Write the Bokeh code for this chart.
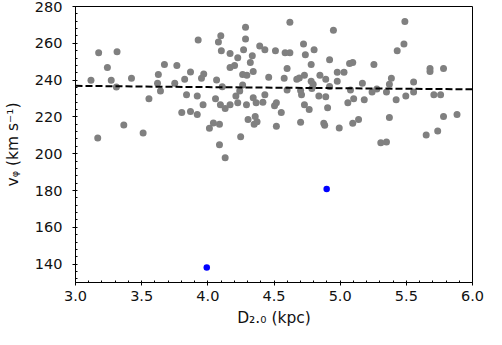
from bokeh.plotting import figure
from bokeh.embed import file_html
from bokeh.resources import INLINE
from bokeh.models import FixedTicker, Range1d

# gray sample stars: distance D_2.0 (kpc), v_phi (km/s)
gray_x = [3.117, 3.175, 3.314, 3.241, 3.270, 3.309, 3.423, 3.168, 3.365, 3.511,
          3.555, 3.626, 3.620, 3.642, 3.672, 3.766, 3.750, 3.825, 3.869, 3.927,
          3.969, 3.952, 3.839, 3.920, 3.964, 3.803, 3.869, 3.920, 4.066, 4.109,
          4.098, 4.080, 4.102, 4.168, 4.226, 4.285, 4.285, 4.270, 4.336, 4.321,
          4.392, 4.431, 4.511, 4.202, 4.168, 4.343, 4.263, 4.295, 4.460, 4.263,
          4.058, 4.241, 4.212, 4.095, 4.131, 4.168, 4.226, 4.292, 4.343, 4.365,
          4.431, 4.416, 4.012, 4.042, 4.088, 4.304, 4.358, 4.372, 4.350, 4.248,
          4.088, 4.131,
          4.620, 4.949, 4.723, 4.584, 4.620, 4.737, 4.803, 4.920, 4.781, 4.599,
          5.071, 5.095, 5.255, 4.577, 4.672, 4.691, 4.730, 4.847, 4.891, 4.978,
          5.029, 4.978, 4.781, 4.796, 4.786, 4.920, 4.599, 4.701, 4.708, 5.168,
          5.078, 5.241, 4.839, 4.891, 5.102, 5.182, 5.058, 4.518, 4.504, 4.730,
          4.766, 4.905, 4.555, 4.518, 4.701, 4.876, 4.883, 4.993, 5.095, 5.139,
          5.489, 5.482, 5.431, 5.679, 5.679, 5.781, 5.387, 5.372, 5.555, 5.277,
          5.350, 5.555, 5.496, 5.423, 5.708, 5.759, 5.372, 5.781, 5.883, 5.650,
          5.737, 5.307, 5.350]
gray_y = [239.9, 254.9, 255.4, 246.9, 239.9, 236.2, 241.0, 208.5, 215.6, 211.2,
          229.8, 243.1, 238.3, 234.1, 248.5, 248.0, 238.3, 240.5, 244.4, 261.8,
          243.3, 241.0, 232.0, 231.4, 226.6, 222.4, 222.9, 221.3, 240.1, 236.4,
          264.1, 260.7, 255.9, 254.5, 252.2, 268.7, 262.3, 256.5, 253.3, 249.5,
          258.6, 256.5, 255.9, 248.0, 246.9, 244.7, 243.1, 242.6, 241.5, 237.3,
          229.8, 234.1, 231.4, 226.6, 224.5, 226.6, 227.7, 226.6, 230.4, 227.7,
          232.0, 228.0, 213.8, 216.7, 216.0, 218.6, 220.2, 217.4, 216.0, 209.2,
          204.8, 197.8,
          271.4, 267.1, 259.6, 254.9, 254.9, 253.8, 256.5, 251.1, 248.5, 246.3,
          249.0, 249.5, 248.5, 241.0, 240.5, 241.2, 242.6, 242.6, 240.5, 244.2,
          244.2, 239.4, 239.4, 237.8, 235.5, 236.5, 234.6, 234.3, 232.0, 238.3,
          234.6, 233.5, 231.4, 230.9, 229.8, 229.3, 227.7, 227.7, 226.1, 226.6,
          224.0, 225.0, 222.4, 214.9, 217.1, 216.5, 215.5, 213.9, 216.5, 218.6,
          271.9, 259.6, 255.9, 246.3, 244.7, 246.3, 241.0, 237.8, 238.9, 235.2,
          233.5, 233.5, 231.4, 229.3, 232.0, 232.0, 219.7, 220.2, 221.3, 210.1,
          212.3, 205.9, 206.4]

# highlighted stars
blue_x = [3.992, 4.898]
blue_y = [138.2, 180.8]

# trend line
fit_x = [3.0, 3.5, 4.0, 4.5, 5.0, 5.5, 6.0]
fit_y = [236.9, 236.5, 236.2, 235.9, 235.6, 235.3, 235.0]

x_ticks = [3.0, 3.5, 4.0, 4.5, 5.0, 5.5, 6.0]
y_ticks = [140, 160, 180, 200, 220, 240, 260, 280]

FONT = "DejaVu Sans"

p = figure(width=486, height=329, output_backend="svg", toolbar_location=None,
           x_range=Range1d(3.0, 6.0), y_range=Range1d(130, 280),
           min_border_left=68, min_border_right=14, min_border_top=6,
           min_border_bottom=46)

p.scatter(gray_x, gray_y, size=7, color="#808080", line_color=None)
p.line(fit_x, fit_y, line_color="black", line_width=2, line_dash="7 3")
p.scatter(blue_x, blue_y, size=6.5, color="#0000ff", line_color=None)

p.grid.visible = False
p.outline_line_color = "black"
p.outline_line_width = 1
p.background_fill_color = "white"
p.border_fill_color = "white"

p.xaxis.ticker = FixedTicker(ticks=x_ticks,
                             minor_ticks=[3.0 + 0.1 * i for i in range(31)])
p.yaxis.ticker = FixedTicker(ticks=y_ticks,
                             minor_ticks=[132 + 4 * i for i in range(38)])
p.xaxis.major_label_overrides = {t: f"{t:.1f}" for t in x_ticks}

for ax in (p.xaxis[0], p.yaxis[0]):
    ax.axis_line_color = "black"
    ax.major_tick_line_color = "black"
    ax.minor_tick_line_color = "black"
    ax.major_tick_out = 3
    ax.major_tick_in = 0
    ax.minor_tick_out = 0
    ax.minor_tick_in = 2
    ax.major_label_text_font = FONT
    ax.major_label_text_font_size = "14.5px"
    ax.major_label_text_color = "#111111"
    ax.axis_label_text_font = FONT
    ax.axis_label_text_font_size = "15.5px"
    ax.axis_label_text_font_style = "normal"
    ax.axis_label_text_color = "#111111"

p.xaxis.axis_label = "D₂.₀ (kpc)"
p.yaxis.axis_label = "vᵩ (km s⁻¹)"
p.xaxis.major_label_standoff = 5
p.xaxis.axis_label_standoff = 5
p.yaxis.major_label_standoff = 10
p.yaxis.axis_label_standoff = 10

open("out.html", "w").write(file_html(p, INLINE))
